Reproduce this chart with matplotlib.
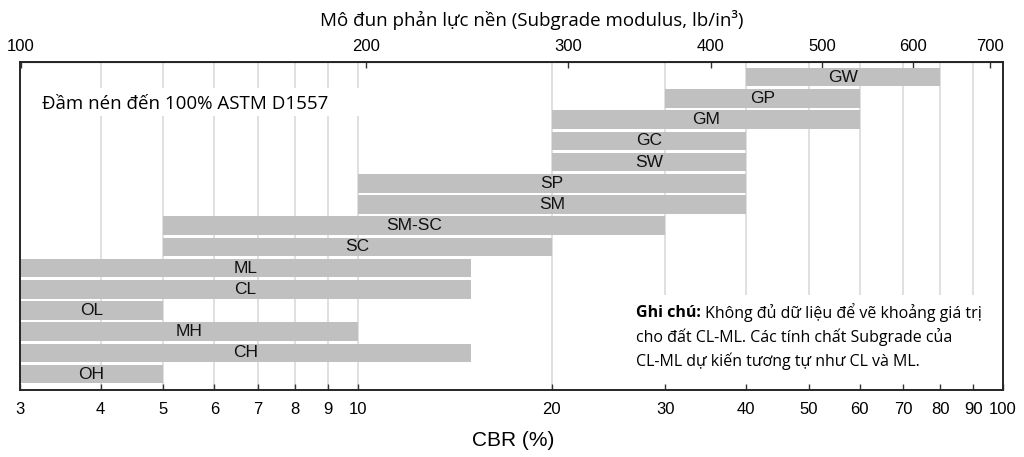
import numpy as np
import matplotlib.pyplot as plt
from matplotlib.patches import Rectangle

# *
# data
# *
soils    = ["OH", "CH", "MH", "OL", "CL", "ML", "SC", "SM-SC", "SM", "SP", "SW", "GC", "GM", "GP", "GW"]
cbr_low  = [3, 3, 3, 3, 3, 3, 5, 5, 10, 10, 20, 20, 20, 30, 40]
cbr_high = [5, 15, 10, 5, 15, 15, 20, 30, 40, 40, 40, 40, 60, 60, 80]

cbr_ticks = [3, 4, 5, 6, 7, 8, 9, 10, 20, 30, 40, 50, 60, 70, 80, 90, 100]
k_ticks   = [100, 200, 300, 400, 500, 600, 700]

# approximate relation modulus k (lb/in3) <-> CBR read off the two scales
k_coef, k_exp = 53.8, 0.563

def cbr_to_k(c):
    return k_coef * np.power(np.clip(c, 1e-6, None), k_exp)

def k_to_cbr(k):
    return np.power(np.clip(k, 1e-6, None) / k_coef, 1.0 / k_exp)

arial = "Liberation Sans"
calibri = "Open Sans"

# *
# plot
# *
fig = plt.figure(figsize=(10.24, 4.57), dpi=100)
ax = fig.add_axes([20/1024, 1 - 390/457, 983/1024, 328/457])

ax.set_xscale("log")
ax.set_xlim(3, 100)
ax.set_ylim(-0.75, 14.72)

for c in cbr_ticks[1:-1]:
    ax.axvline(c, color="#dadada", lw=1.2, zorder=0)

y = np.arange(len(soils))
lo = np.array(cbr_low, dtype=float)
hi = np.array(cbr_high, dtype=float)
ax.barh(y, hi - lo, left=lo, height=0.87, color="#c0c0c0", zorder=2)
for yi, name, a, b in zip(y, soils, lo, hi):
    ax.text(np.sqrt(a * b), yi, name, ha="center", va="center",
            fontsize=12.5, family=arial, color="#111111", zorder=4)

# white boxes behind the two notes
ax.add_patch(Rectangle((0.001, 0.835), 0.351, 0.086, transform=ax.transAxes,
                       facecolor="white", edgecolor="none", zorder=1))
ax.add_patch(Rectangle((0.610, 0.003), 0.389, 0.287, transform=ax.transAxes,
                       facecolor="white", edgecolor="none", zorder=1))

ax.text(22/983, 0.872, "Đầm nén đến 100% ASTM D1557", transform=ax.transAxes,
        ha="left", va="center", fontsize=13.5, family=calibri, zorder=5)

bold = ax.text(616/983, (390 - 313)/328, "Ghi chú:", transform=ax.transAxes,
               ha="left", va="center", fontsize=11.5,
               family=[calibri, "DejaVu Sans"], fontweight="bold", zorder=5)
ax.annotate(" Không đủ dữ liệu để vẽ khoảng giá trị", xy=(1, 0.5), xycoords=bold,
            ha="left", va="center", fontsize=11.5, family=calibri, zorder=5)
ax.text(616/983, (390 - 337)/328, "cho đất CL-ML. Các tính chất Subgrade của",
        transform=ax.transAxes, ha="left", va="center", fontsize=11.5,
        family=calibri, zorder=5)
ax.text(616/983, (390 - 361)/328, "CL-ML dự kiến tương tự như CL và ML.",
        transform=ax.transAxes, ha="left", va="center", fontsize=11.5,
        family=calibri, zorder=5)

ax.set_yticks([])
ax.set_xticks(cbr_ticks)
ax.set_xticklabels([str(c) for c in cbr_ticks], family=arial, fontsize=12)
ax.xaxis.set_minor_locator(plt.NullLocator())
ax.tick_params(axis="x", direction="in", length=4, width=1, color="#333333", pad=9)

for s in ax.spines.values():
    s.set_color("#262626")
    s.set_linewidth(1.4)
    s.set_zorder(6)

top = ax.secondary_xaxis("top", functions=(cbr_to_k, k_to_cbr))
top.set_xticks(k_ticks)
top.set_xticklabels([str(k) for k in k_ticks], family=arial, fontsize=12)
top.xaxis.set_minor_locator(plt.NullLocator())
top.tick_params(axis="x", direction="in", length=4, width=1, color="#333333", pad=6)

fig.text(532/1024, 1 - 20/457, "Mô đun phản lực nền (Subgrade modulus, lb/in³)",
         ha="center", va="center", fontsize=13.5, family=calibri)
fig.text(513/1024, 1 - 440/457, "CBR (%)", ha="center", va="center",
         fontsize=15, family=arial)

fig.savefig("out.png", dpi=100)
